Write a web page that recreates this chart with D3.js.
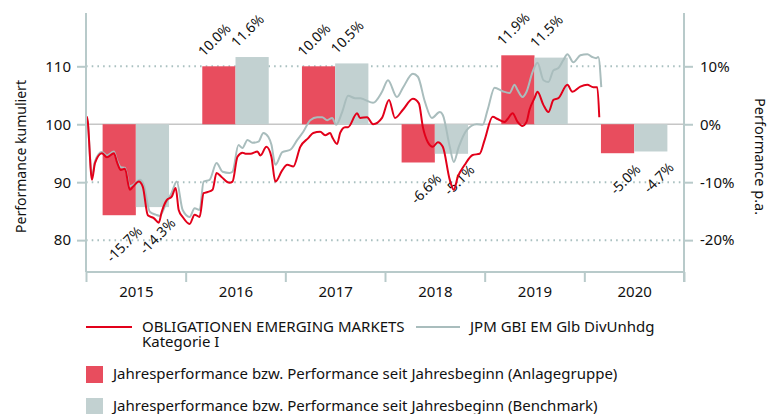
<!DOCTYPE html>
<html>
<head>
<meta charset="utf-8">
<script src="https://cdn.jsdelivr.net/npm/d3@7"></script>
<style>
  body { margin: 0; background: #fff; }
  svg text { font-family: "Noto Sans", "DejaVu Sans", sans-serif; fill: #111; }
</style>
</head>
<body>
<svg id="chart" width="776" height="414"></svg>
<script>
// yearly bars (percent)
let years = [2015, 2016, 2017, 2018, 2019, 2020]
let fundYearly = [-15.7, 10.0, 10.0, -6.6, 11.9, -5.0]
let benchYearly = [-14.3, 11.6, 10.5, -5.1, 11.5, -4.7]

// cumulative performance, [fractional year, value]
let fundLine = [
  [2015.00, 101.0], [2015.01, 101.3], [2015.06, 90.4], [2015.09, 93.3], [2015.16, 95.0], [2015.21, 94.3],
  [2015.28, 95.0], [2015.31, 93.5], [2015.35, 92.1], [2015.39, 92.3], [2015.44, 88.7], [2015.47, 89.2],
  [2015.53, 90.1], [2015.57, 89.2], [2015.62, 84.3], [2015.68, 83.8], [2015.73, 83.0], [2015.76, 84.9],
  [2015.81, 86.9], [2015.86, 87.5], [2015.90, 89.0], [2015.93, 85.2], [2015.97, 84.0], [2016.04, 82.8],
  [2016.09, 84.4], [2016.14, 84.0], [2016.18, 88.1], [2016.22, 88.3], [2016.27, 88.7], [2016.31, 91.6],
  [2016.36, 90.9], [2016.44, 89.9], [2016.47, 90.1], [2016.52, 94.4], [2016.57, 95.1], [2016.60, 94.9],
  [2016.65, 94.9], [2016.72, 95.3], [2016.75, 94.6], [2016.81, 96.1], [2016.86, 94.4], [2016.90, 90.1],
  [2016.97, 92.1], [2017.02, 93.0], [2017.08, 92.7], [2017.15, 96.1], [2017.23, 97.6], [2017.28, 98.5],
  [2017.35, 98.7], [2017.40, 98.1], [2017.45, 98.5], [2017.47, 97.8], [2017.52, 96.6], [2017.55, 98.5],
  [2017.60, 99.5], [2017.63, 99.5], [2017.72, 101.9], [2017.75, 101.1], [2017.82, 101.2], [2017.88, 100.0],
  [2017.97, 101.1], [2018.04, 104.2], [2018.10, 101.1], [2018.18, 102.5], [2018.28, 104.4], [2018.34, 103.6],
  [2018.38, 99.5], [2018.43, 96.9], [2018.48, 96.1], [2018.53, 96.9], [2018.58, 96.1], [2018.65, 90.4],
  [2018.69, 88.7], [2018.73, 90.9], [2018.80, 93.0], [2018.88, 94.7], [2018.95, 94.9], [2019.00, 97.3],
  [2019.08, 101.3], [2019.13, 100.9], [2019.20, 100.4], [2019.23, 100.9], [2019.28, 101.9], [2019.33, 100.4],
  [2019.38, 99.7], [2019.42, 100.4], [2019.45, 102.5], [2019.50, 104.5], [2019.53, 105.6], [2019.59, 103.3],
  [2019.64, 102.1], [2019.69, 104.2], [2019.74, 104.5], [2019.83, 106.8], [2019.88, 105.6], [2019.96, 106.5],
  [2020.03, 106.8], [2020.09, 106.4], [2020.13, 106.4], [2020.15, 101.2]
]

let benchLine = [
  [2015.00, 100.8], [2015.01, 101.0], [2015.06, 91.0], [2015.09, 93.6], [2015.16, 95.2], [2015.21, 94.6],
  [2015.28, 95.3], [2015.31, 93.8], [2015.35, 92.6], [2015.39, 92.5], [2015.44, 89.3], [2015.47, 89.5],
  [2015.54, 90.4], [2015.58, 89.5], [2015.64, 84.9], [2015.70, 84.4], [2015.74, 84.2], [2015.81, 86.6],
  [2015.86, 88.2], [2015.91, 90.1], [2015.97, 85.2], [2016.04, 84.0], [2016.09, 85.5], [2016.14, 85.2],
  [2016.18, 90.1], [2016.24, 90.4], [2016.31, 93.3], [2016.37, 91.8], [2016.44, 91.6], [2016.47, 91.8],
  [2016.53, 96.4], [2016.57, 95.9], [2016.62, 97.3], [2016.67, 96.8], [2016.73, 97.0], [2016.78, 98.5],
  [2016.83, 97.8], [2016.86, 96.5], [2016.90, 93.0], [2016.97, 95.2], [2017.05, 95.6], [2017.12, 97.3],
  [2017.18, 98.7], [2017.25, 100.7], [2017.32, 101.2], [2017.37, 101.2], [2017.42, 100.7], [2017.47, 101.1],
  [2017.51, 99.9], [2017.57, 102.1], [2017.63, 104.9], [2017.70, 104.5], [2017.75, 104.5], [2017.80, 104.2],
  [2017.88, 103.7], [2017.97, 105.6], [2018.03, 107.6], [2018.12, 104.7], [2018.18, 106.3], [2018.28, 108.7],
  [2018.33, 108.2], [2018.40, 103.9], [2018.47, 101.1], [2018.55, 102.1], [2018.58, 101.6], [2018.65, 96.1],
  [2018.69, 93.5], [2018.74, 96.1], [2018.82, 99.0], [2018.92, 100.0], [2018.98, 99.9], [2019.03, 102.5],
  [2019.10, 106.3], [2019.18, 105.7], [2019.25, 105.4], [2019.30, 106.8], [2019.33, 105.9], [2019.38, 104.7],
  [2019.42, 105.6], [2019.48, 109.0], [2019.53, 110.6], [2019.59, 107.6], [2019.64, 107.3], [2019.69, 109.3],
  [2019.74, 109.7], [2019.79, 111.1], [2019.83, 112.1], [2019.89, 110.7], [2019.96, 111.9], [2020.03, 112.1],
  [2020.08, 111.6], [2020.12, 111.4], [2020.14, 111.6], [2020.17, 106.4]
]

let leftTicks = [80, 90, 100, 110]
let rightTicks = [-20, -10, 0, 10]
let legendLines = ["OBLIGATIONEN EMERGING MARKETS", "Kategorie I"]
let benchName = "JPM GBI EM Glb DivUnhdg"
let barLegend = [
  "Jahresperformance bzw. Performance seit Jahresbeginn (Anlagegruppe)",
  "Jahresperformance bzw. Performance seit Jahresbeginn (Benchmark)"
]

let red = "#e2001a"
let redBar = "#e84d5e"
let greyLine = "#a9bdbd"
let greyBar = "#c2d1d1"
let axisCol = "#b8caca"

let svg = d3.select("#chart")

let pLeft = 86, pRight = 684, pTop = 13, pBottom = 272

let x = d3.scaleLinear().domain([2015, 2021]).range([pLeft, pRight])
let y = d3.scaleLinear().domain([74.5, 119.2]).range([pBottom, pTop])
let y2 = d3.scaleLinear().domain([-25.5, 19.2]).range([pBottom, pTop])

// grid
svg.append("g")
  .selectAll("line")
  .data(leftTicks.filter(d => d != 100))
  .join("line")
  .attr("x1", pLeft).attr("x2", pRight)
  .attr("y1", d => y(d)).attr("y2", d => y(d))
  .attr("stroke", "#a9c0c0")
  .attr("stroke-width", 2)
  .attr("stroke-dasharray", "1.6,4.1")

svg.append("line")
  .attr("x1", pLeft).attr("x2", pRight)
  .attr("y1", y(100)).attr("y2", y(100))
  .attr("stroke", "#c6c6c6")
  .attr("stroke-width", 1.5)

// bars
let bw = (x(2016) - x(2015)) / 3
let bars = svg.append("g")
bars.selectAll(".fund")
  .data(years)
  .join("rect")
  .attr("class", "fund")
  .attr("x", d => x(d) + bw / 2)
  .attr("width", bw)
  .attr("y", (d, i) => y2(Math.max(0, fundYearly[i])))
  .attr("height", (d, i) => Math.abs(y2(fundYearly[i]) - y2(0)))
  .attr("fill", redBar)

bars.selectAll(".bench")
  .data(years)
  .join("rect")
  .attr("class", "bench")
  .attr("x", d => x(d) + bw * 1.5)
  .attr("width", bw)
  .attr("y", (d, i) => y2(Math.max(0, benchYearly[i])))
  .attr("height", (d, i) => Math.abs(y2(benchYearly[i]) - y2(0)))
  .attr("fill", greyBar)

// bar labels
let fmt = d => d.toFixed(1) + "%"
function addLabels(vals, off) {
  svg.append("g")
    .selectAll("text")
    .data(years)
    .join("text")
    .attr("transform", (d, i) => {
      let cx = x(d) + bw * off
      let v = vals[i]
      if (v >= 0) return `translate(${cx - 15},${y2(v) - 9}) rotate(-45)`
      return `translate(${cx + 24},${y2(v) + 17}) rotate(-45)`
    })
    .attr("text-anchor", (d, i) => vals[i] >= 0 ? "start" : "end")
    .style("font-size", "14px")
    .text((d, i) => fmt(vals[i]))
}
addLabels(fundYearly, 1)
addLabels(benchYearly, 2)

// lines
let line = d3.line()
  .x(d => x(d[0]))
  .y(d => y(d[1]))
  .curve(d3.curveMonotoneX)

svg.append("path")
  .datum(benchLine)
  .attr("d", line)
  .attr("fill", "none")
  .attr("stroke", greyLine)
  .attr("stroke-width", 2)

svg.append("path")
  .datum(fundLine)
  .attr("d", line)
  .attr("fill", "none")
  .attr("stroke", red)
  .attr("stroke-width", 2)

// axes
let leftAxis = svg.append("g")
  .attr("transform", `translate(${pLeft},0)`)
  .call(d3.axisLeft(y).tickValues(leftTicks).tickSize(9).tickPadding(6))
leftAxis.select(".domain").attr("d", `M0,${pTop}V${pBottom}`)

let rightAxis = svg.append("g")
  .attr("transform", `translate(${pRight},0)`)
  .call(d3.axisRight(y2).tickValues(rightTicks).tickSize(9).tickPadding(7)
    .tickFormat(d => d + "%"))
rightAxis.select(".domain").attr("d", `M0,${pTop}V${pBottom + 10}`)

let bottomAxis = svg.append("g")
  .attr("transform", `translate(0,${pBottom})`)
  .call(d3.axisBottom(x).tickValues(d3.range(2015, 2022)).tickSize(10).tickFormat(""))
bottomAxis.select(".domain").attr("d", `M${pLeft},0H${pRight}`)

svg.append("g")
  .attr("transform", `translate(0,${pBottom})`)
  .call(d3.axisBottom(x).tickValues(years.map(d => d + 0.5)).tickSize(0).tickPadding(14)
    .tickFormat(d => Math.floor(d)))
  .call(g => g.select(".domain").remove())

svg.selectAll(".domain, .tick line")
  .attr("stroke", axisCol)
  .attr("stroke-width", 2)
svg.selectAll(".tick text")
  .attr("fill", "#111")
  .style("font-size", "15px")
  .style("font-family", '"Noto Sans", sans-serif')

// axis titles
svg.append("text")
  .attr("transform", `translate(26,${(pTop + pBottom) / 2 + 14}) rotate(-90)`)
  .attr("text-anchor", "middle")
  .style("font-size", "14px")
  .text("Performance kumuliert")

svg.append("text")
  .attr("transform", `translate(755,${(pTop + pBottom) / 2 + 14}) rotate(90)`)
  .attr("text-anchor", "middle")
  .style("font-size", "14.5px")
  .text("Performance p.a.")

// legend
let legend = svg.append("g").style("font-size", "15px")
legend.append("line")
  .attr("x1", 86).attr("x2", 132).attr("y1", 327).attr("y2", 327)
  .attr("stroke", red).attr("stroke-width", 2)
legend.append("text")
  .attr("y", 332)
  .selectAll("tspan")
  .data(legendLines)
  .join("tspan")
  .attr("x", 142)
  .attr("dy", (d, i) => i == 0 ? 0 : 15)
  .text(d => d)
legend.append("line")
  .attr("x1", 416).attr("x2", 460).attr("y1", 327).attr("y2", 327)
  .attr("stroke", greyLine).attr("stroke-width", 2)
legend.append("text")
  .attr("x", 470).attr("y", 332)
  .text(benchName)

legend.selectAll("rect")
  .data(barLegend)
  .join("rect")
  .attr("x", 86)
  .attr("y", (d, i) => 366 + i * 32)
  .attr("width", 17).attr("height", 17)
  .attr("fill", (d, i) => i == 0 ? redBar : greyBar)
legend.selectAll(".bl")
  .data(barLegend)
  .join("text")
  .attr("class", "bl")
  .attr("x", 113)
  .attr("y", (d, i) => 379 + i * 32)
  .text(d => d)
</script>
</body>
</html>
